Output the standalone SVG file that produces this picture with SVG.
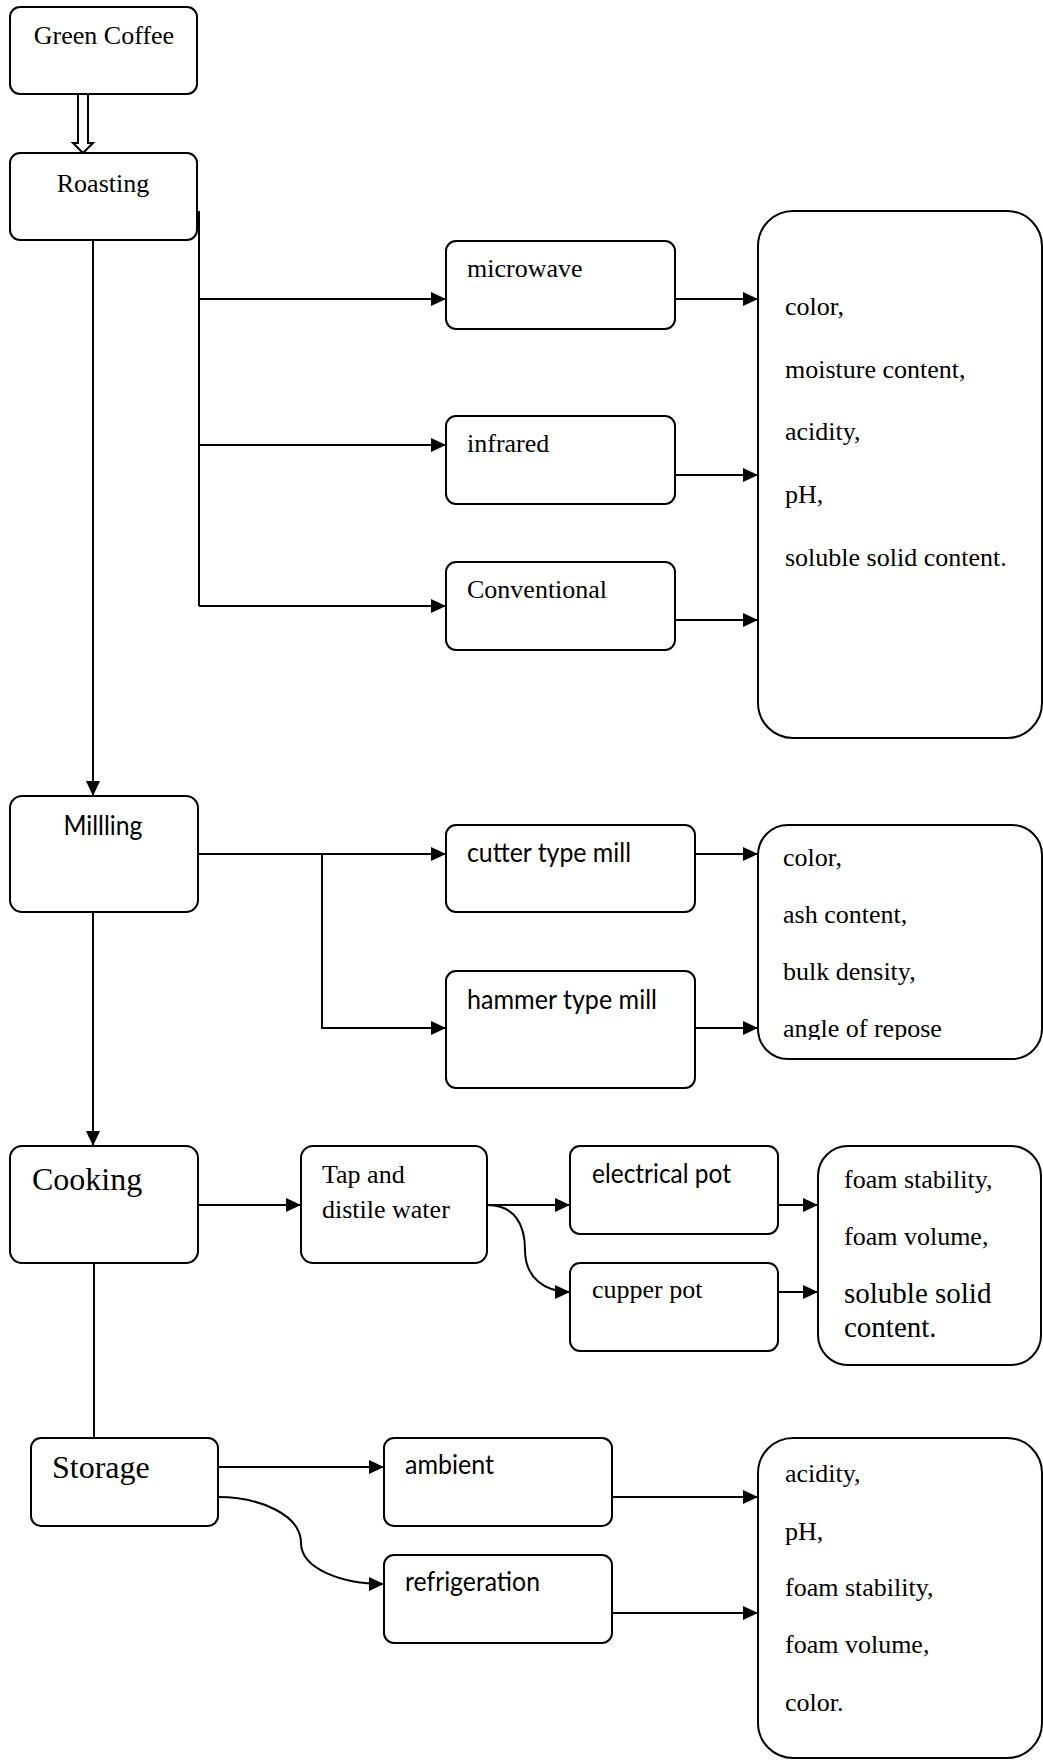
<svg xmlns="http://www.w3.org/2000/svg" width="1043" height="1760" viewBox="0 0 1043 1760">
<style>
.box{fill:#fff;stroke:#000;stroke-width:2}
.ln{fill:none;stroke:#000;stroke-width:2}
.arr{fill:none;stroke:#000;stroke-width:2;marker-end:url(#ah)}
.s{font-family:"Liberation Serif","Times New Roman",serif;font-size:26px;fill:#000}
.c{font-family:Lato,"Liberation Sans",sans-serif;font-size:26px;fill:#000}
.big{font-size:32px}
.mid{text-anchor:middle}
.lg{font-size:29px}
</style>
<defs>
<marker id="ah" markerUnits="userSpaceOnUse" markerWidth="16" markerHeight="16" refX="15" refY="7" orient="auto">
<path d="M0,0 L15,7 L0,14 Z" fill="#000"/>
</marker>
<clipPath id="clipRepose"><rect x="758" y="825" width="283" height="215"/></clipPath>
</defs>
<rect width="1043" height="1760" fill="#fff"/>

<g id="connectors">
<path d="M78,94 L78,143 L73,143 L83,153 L93,143 L88,143 L88,94" fill="#fff" stroke="#000" stroke-width="2"/>
<path class="arr" d="M93,240 V796"/>
<path class="ln" d="M199,211 V606"/>
<path class="arr" d="M199,299 H446"/>
<path class="arr" d="M199,445 H446"/>
<path class="arr" d="M199,606 H446"/>
<path class="arr" d="M675,299 H758"/>
<path class="arr" d="M675,475 H758"/>
<path class="arr" d="M675,620 H758"/>
<path class="arr" d="M93,912 V1146"/>
<path class="arr" d="M198,854 H446"/>
<path class="arr" d="M322,854 V1028 H446"/>
<path class="arr" d="M695,854 H758"/>
<path class="arr" d="M695,1028 H758"/>
<path class="ln" d="M94,1263 V1438"/>
<path class="arr" d="M198,1205 H301"/>
<path class="arr" d="M487,1205 H570"/>
<path class="arr" d="M487,1205 C515,1205 525,1225 525,1250 C525,1278 545,1292 570,1292"/>
<path class="arr" d="M778,1205 H818"/>
<path class="arr" d="M778,1292 H818"/>
<path class="arr" d="M218,1467 H384"/>
<path class="arr" d="M218,1497 C260,1497 301,1515 301,1543 C301,1568 340,1584 384,1584"/>
<path class="arr" d="M612,1497 H758"/>
<path class="arr" d="M612,1613 H758"/>
</g>

<g id="green-coffee">
<rect class="box" x="10" y="7" width="187" height="87" rx="10"/>
<text class="s mid" x="104" y="44">Green Coffee</text>
</g>
<g id="roasting">
<rect class="box" x="10" y="153" width="187" height="87" rx="10"/>
<text class="s mid" x="103" y="192">Roasting</text>
</g>
<g id="microwave">
<rect class="box" x="446" y="241" width="229" height="88" rx="10"/>
<text class="s" x="467" y="277">microwave</text>
</g>
<g id="infrared">
<rect class="box" x="446" y="416" width="229" height="88" rx="10"/>
<text class="s" x="467" y="452">infrared</text>
</g>
<g id="conventional">
<rect class="box" x="446" y="562" width="229" height="88" rx="10"/>
<text class="s" x="467" y="598">Conventional</text>
</g>
<g id="roasting-properties">
<rect class="box" x="758" y="211" width="284" height="527" rx="35"/>
<text class="s" x="785" y="315">color,</text>
<text class="s" x="785" y="378">moisture content,</text>
<text class="s" x="785" y="440">acidity,</text>
<text class="s" x="785" y="503">pH,</text>
<text class="s" x="785" y="566">soluble solid content.</text>
</g>

<g id="milling">
<rect class="box" x="10" y="796" width="188" height="116" rx="12"/>
<text class="c mid" x="103" y="835" textLength="79" lengthAdjust="spacingAndGlyphs">Millling</text>
</g>
<g id="cutter-type-mill">
<rect class="box" x="446" y="825" width="249" height="87" rx="10"/>
<text class="c" x="467" y="862" textLength="164" lengthAdjust="spacingAndGlyphs">cutter type mill</text>
</g>
<g id="hammer-type-mill">
<rect class="box" x="446" y="971" width="249" height="117" rx="10"/>
<text class="c" x="467" y="1009" textLength="190" lengthAdjust="spacingAndGlyphs">hammer type mill</text>
</g>
<g id="milling-properties">
<rect class="box" x="758" y="825" width="284" height="234" rx="30"/>
<text class="s" x="783" y="866">color,</text>
<text class="s" x="783" y="923">ash content,</text>
<text class="s" x="783" y="980">bulk density,</text>
<text class="s" x="783" y="1037" clip-path="url(#clipRepose)">angle of repose</text>
</g>

<g id="cooking">
<rect class="box" x="10" y="1146" width="188" height="117" rx="12"/>
<text class="s big" x="32" y="1190">Cooking</text>
</g>
<g id="tap-distile-water">
<rect class="box" x="301" y="1146" width="186" height="117" rx="12"/>
<text class="s" x="322" y="1183">Tap and</text>
<text class="s" x="322" y="1218">distile water</text>
</g>
<g id="electrical-pot">
<rect class="box" x="570" y="1146" width="208" height="88" rx="10"/>
<text class="c" x="592" y="1183" textLength="139" lengthAdjust="spacingAndGlyphs">electrical pot</text>
</g>
<g id="cupper-pot">
<rect class="box" x="570" y="1263" width="208" height="88" rx="10"/>
<text class="s" x="592" y="1298">cupper pot</text>
</g>
<g id="cooking-properties">
<rect class="box" x="818" y="1146" width="223" height="219" rx="30"/>
<text class="s" x="844" y="1188">foam stability,</text>
<text class="s" x="844" y="1245">foam volume,</text>
<text class="s lg" x="844" y="1303">soluble solid</text>
<text class="s lg" x="844" y="1337">content.</text>
</g>

<g id="storage">
<rect class="box" x="31" y="1438" width="187" height="88" rx="10"/>
<text class="s big" x="52" y="1478">Storage</text>
</g>
<g id="ambient">
<rect class="box" x="384" y="1438" width="228" height="88" rx="10"/>
<text class="c" x="405" y="1474" textLength="89" lengthAdjust="spacingAndGlyphs">ambient</text>
</g>
<g id="refrigeration">
<rect class="box" x="384" y="1555" width="228" height="88" rx="10"/>
<text class="c" x="405" y="1591" textLength="135" lengthAdjust="spacingAndGlyphs">refrigeration</text>
</g>
<g id="storage-properties">
<rect class="box" x="758" y="1438" width="284" height="320" rx="35"/>
<text class="s" x="785" y="1482">acidity,</text>
<text class="s" x="785" y="1540">pH,</text>
<text class="s" x="785" y="1596">foam stability,</text>
<text class="s" x="785" y="1653">foam volume,</text>
<text class="s" x="785" y="1711">color.</text>
</g>
</svg>
